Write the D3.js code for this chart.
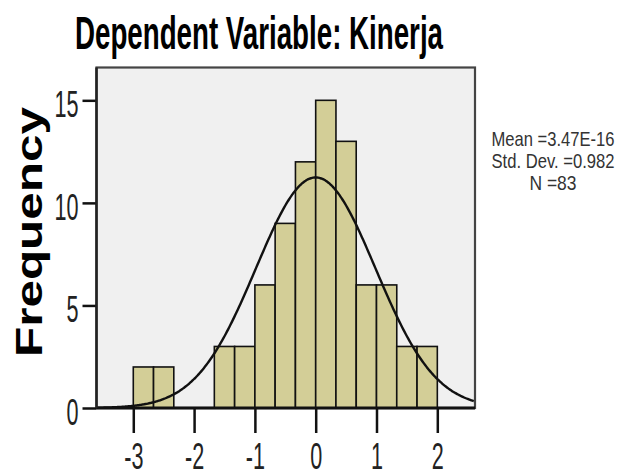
<!DOCTYPE html>
<html lang="en">
    <head>
        <meta charset="utf-8">
        <title>Histogram</title>
        <script type="text/javascript" src="https://d3js.org/d3.v7.min.js"></script>
        <style type="text/css">
          body{
            margin: 0;
            background: #ffffff;
          }
          .title{
            font-family: "Liberation Sans", Arial, sans-serif;
            font-weight: bold;
            fill: #000;
          }
          .ytitle{
            font-family: "Liberation Sans", Arial, sans-serif;
            font-weight: bold;
            fill: #000;
          }
          .stats{
            font-family: "Liberation Sans", Arial, sans-serif;
            fill: #333;
          }
          .axis text{
            font-family: "Liberation Sans", Arial, sans-serif;
            fill: #222;
          }
        </style>
    </head>
    <body>
        <div id="chart"></div>
        <script type="text/javascript">

            const w = 619;
            const h = 472;

            // histogram bins (lower edge), counts
            const binStarts = [-3.000, -2.667, -2.333, -2.000, -1.667, -1.333, -1.000, -0.667, -0.333, 0.000, 0.333, 0.667, 1.000, 1.333, 1.667];
            const binWidth = 0.3333;
            const counts = [2, 2, 0, 0, 3, 3, 6, 9, 12, 15, 13, 6, 6, 3, 3];

            const xTicks = [-3, -2, -1, 0, 1, 2];
            const yTicks = [0, 5, 10, 15];

            // stats shown in the legend, also used for the normal curve
            const statMean = 3.47e-16;
            const statSd = 0.982;
            const statN = 83;
            const statLines = ["Mean =3.47E-16", "Std. Dev. =0.982", "N =83"];

            const titleText = "Dependent Variable: Kinerja";
            const yTitle = "Frequency";

            const plot = {left: 96.5, right: 475, top: 67.5, bottom: 408};

            const x = d3.scaleLinear()
                        .domain([-3.605, 2.62])
                        .range([plot.left, plot.right]);

            const y = d3.scaleLinear()
                        .domain([0, 16.6])
                        .range([plot.bottom, plot.top]);

            const svg = d3.select("#chart")
                          .append("svg")
                          .attr("width", w)
                          .attr("height", h);

            // plot background + frame
            svg.append("rect")
               .attr("x", plot.left)
               .attr("y", plot.top)
               .attr("width", plot.right - plot.left)
               .attr("height", plot.bottom - plot.top)
               .style("fill", "#f0f0f0")
               .style("stroke", "#444")
               .style("stroke-width", 2.2);

            const bins = binStarts.map((s, i) => ({x0: s, x1: s + binWidth, n: counts[i]}))
                                  .filter(d => d.n > 0);

            svg.selectAll(".bar")
               .data(bins)
               .enter()
               .append("rect")
               .attr("class", "bar")
               .attr("x", d => x(d.x0))
               .attr("y", d => y(d.n))
               .attr("width", d => x(d.x1) - x(d.x0))
               .attr("height", d => y(0) - y(d.n))
               .style("fill", "#d3ce97")
               .style("stroke", "#111")
               .style("stroke-width", 1.6);

            // fitted normal curve (scaled to counts: N * bin width * density)
            const xs = d3.range(-3.6, 2.62, 0.02);
            const curve = d3.line()
                            .x(v => x(v))
                            .y(v => y(statN * binWidth * Math.exp(-0.5 * Math.pow((v - statMean) / statSd, 2)) / (statSd * Math.sqrt(2 * Math.PI))))
                            .curve(d3.curveBasis);

            svg.append("path")
               .datum(xs)
               .attr("d", curve)
               .style("fill", "none")
               .style("stroke", "#111")
               .style("stroke-width", 2.4);

            // squeeze tick labels horizontally (narrow SPSS look)
            function squeeze(sel, k) {
              sel.each(function() {
                const len = this.getComputedTextLength();
                d3.select(this)
                  .attr("textLength", len * k)
                  .attr("lengthAdjust", "spacingAndGlyphs");
              });
            }

            // axes
            const yAxis = svg.append("g")
                             .attr("class", "axis")
                             .attr("transform", `translate(${plot.left},0)`)
                             .call(d3.axisLeft(y).tickValues(yTicks).tickSize(14).tickSizeOuter(0));
            yAxis.select(".domain").remove();
            yAxis.selectAll("line").style("stroke", "#111").style("stroke-width", 2.5);
            yAxis.selectAll("text")
                 .attr("x", -18)
                 .attr("dy", 16.5)
                 .style("font-size", "36px")
                 .call(squeeze, 0.6);

            // plain hyphen for negatives, as in the SPSS output
            const xAxis = svg.append("g")
                             .attr("class", "axis")
                             .attr("transform", `translate(0,${plot.bottom})`)
                             .call(d3.axisBottom(x).tickValues(xTicks).tickFormat(d => String(d)).tickSize(25).tickSizeOuter(0));
            xAxis.select(".domain").remove();
            xAxis.selectAll("line").style("stroke", "#111").style("stroke-width", 2.5);
            xAxis.selectAll("text")
                 .attr("y", 61)
                 .attr("dy", 0)
                 .style("font-size", "36px")
                 .call(squeeze, 0.6);

            // heavy axis lines
            svg.append("line")
               .attr("x1", plot.left).attr("x2", plot.right)
               .attr("y1", plot.bottom).attr("y2", plot.bottom)
               .style("stroke", "#111").style("stroke-width", 3);
            svg.append("line")
               .attr("x1", plot.left).attr("x2", plot.left)
               .attr("y1", plot.top).attr("y2", plot.bottom)
               .style("stroke", "#222").style("stroke-width", 2.5);

            // titles
            svg.append("text")
               .attr("class", "title")
               .attr("x", 75)
               .attr("y", 49)
               .attr("textLength", 368)
               .attr("lengthAdjust", "spacingAndGlyphs")
               .style("font-size", "47px")
               .text(titleText);

            svg.append("text")
               .attr("class", "ytitle")
               .attr("transform", "translate(42,232) rotate(-90)")
               .attr("text-anchor", "middle")
               .attr("textLength", 250)
               .attr("lengthAdjust", "spacingAndGlyphs")
               .style("font-size", "36px")
               .text(yTitle);

            // stats box text
            svg.selectAll(".stats")
               .data(statLines)
               .enter()
               .append("text")
               .attr("class", "stats")
               .attr("x", 553)
               .attr("y", (d, i) => [146, 168, 190][i])
               .attr("text-anchor", "middle")
               .attr("textLength", (d, i) => [123, 123, 47][i])
               .attr("lengthAdjust", "spacingAndGlyphs")
               .style("font-size", "21px")
               .text(d => d);

        </script>
    </body>
</html>
